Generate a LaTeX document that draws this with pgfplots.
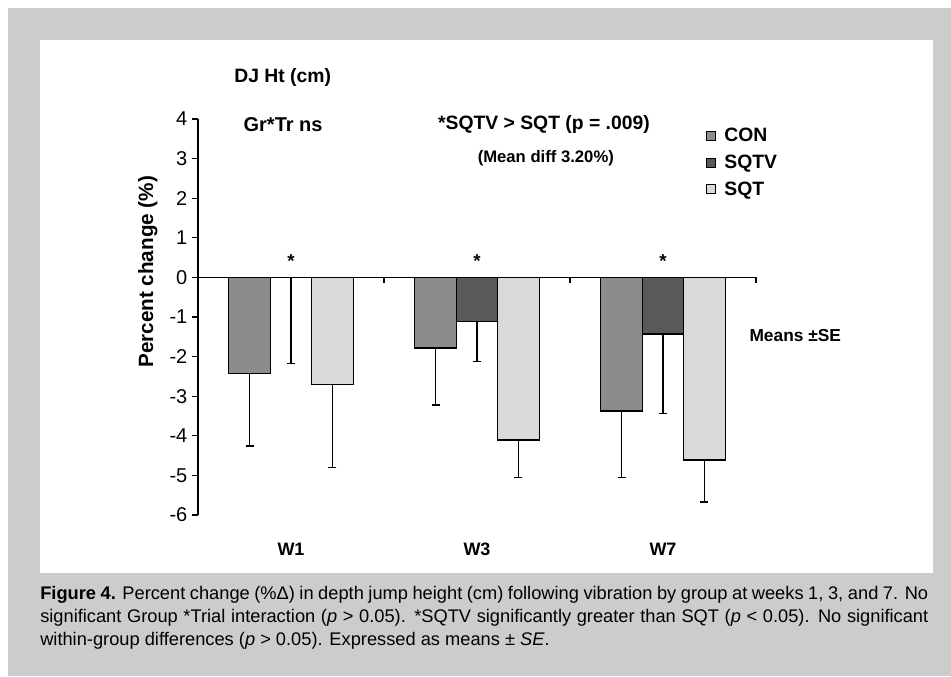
\documentclass[border=0pt]{standalone}
\usepackage{fontspec}
\setmainfont{Liberation Sans}
\usepackage{pgfplots}
\usepackage{pgfplotstable}
\pgfplotsset{compat=1.18}

\definecolor{bggray}{HTML}{CCCCCC}
\definecolor{concol}{HTML}{8C8C8C}
\definecolor{sqtvcol}{HTML}{595959}
\definecolor{sqtcol}{HTML}{D9D9D9}

% mean percent change and SE, weeks W1, W3, W7
\pgfplotstableread{
x y e
0 -2.42 1.84
1 -1.78 1.44
2 -3.37 1.69
}\tabcon
\pgfplotstableread{
x y e
0  0.00 2.17
1 -1.11 1.01
2 -1.43 2.01
}\tabsqtv
\pgfplotstableread{
x y e
0 -2.70 2.11
1 -4.11 0.95
2 -4.61 1.06
}\tabsqt

\newcommand{\fs}[1]{\fontsize{#1}{#1}\selectfont}
\newcommand{\plusmin}{\char"00B1\relax}

\begin{document}
\begin{tikzpicture}
\useasboundingbox (0,0) rectangle (713.25pt,507pt);
\fill[white] (0,0) rectangle (713.25pt,507pt);
\fill[bggray] (6pt,0) rectangle (713.25pt,501pt);
\fill[white] (30pt,77.25pt) rectangle (699.75pt,477pt);
\begin{axis}[
    at={(148.5pt,120.75pt)}, anchor=south west,
    scale only axis,
    width=418.5pt, height=297pt,
    xmin=-0.5, xmax=2.5,
    ymin=-6, ymax=4,
    ybar=0pt, bar width=31.1pt,
    axis y line*=left,
    axis x line*=bottom,
    x axis line style={draw=none},
    y axis line style={black, line width=0.9pt},
    xtick={0,1,2},
    xticklabels={W1,W3,W7},
    xtick style={draw=none},
    xticklabel style={font=\bfseries\fs{13.5}, yshift=-13pt},
    ytick={-6,-5,-4,-3,-2,-1,0,1,2,3,4},
    yticklabels={-6,-5,-4,-3,-2,-1,0,1,2,3,4},
    yticklabel style={font=\fs{15}},
    ytick style={black, line width=0.9pt},
    tick align=outside,
    major tick length=4.5pt,
    ylabel={Percent change (\%)},
    ylabel style={font=\bfseries\fs{15.5}, at={(axis description cs:-0.09,0.614)}, anchor=center},
    clip=false,
    legend style={at={(axis description cs:0.91,0.985)}, anchor=north west,
        draw=none, fill=none, font=\bfseries\fs{14.5}, row sep=4.5pt,
        inner sep=0pt},
    legend cell align=left,
    legend image code/.code={\draw[#1, draw=black, line width=0.6pt] (0pt,-3.4pt) rectangle (6.8pt,3.4pt); \path (11pt,0pt);},
    error bars/y dir=minus,
    error bars/y explicit,
    error bars/error bar style={black, line width=0.9pt},
    error bars/error mark options={rotate=90, black, mark size=3pt, line width=0.9pt},
]
\addplot[fill=concol, draw=black, line width=1pt] table[x=x, y=y, y error=e] {\tabcon};
\addplot[fill=sqtvcol, draw=black, line width=1pt] table[x=x, y=y, y error=e] {\tabsqtv};
\addplot[fill=sqtcol, draw=black, line width=1pt] table[x=x, y=y, y error=e] {\tabsqt};
\legend{CON, SQTV, SQT}

% zero line with category separators
\draw[black, line width=0.9pt] (axis cs:-0.5,0) -- (axis cs:2.5,0);
\draw[black, line width=0.9pt] (axis cs:0.5,0) -- ([yshift=-4.5pt]axis cs:0.5,0);
\draw[black, line width=0.9pt] (axis cs:1.5,0) -- ([yshift=-4.5pt]axis cs:1.5,0);
\draw[black, line width=0.9pt] (axis cs:2.5,0) -- ([yshift=-4.5pt]axis cs:2.5,0);

\node[font=\bfseries\fs{14.5}, anchor=west] at (axis cs:-0.33,5.05) {DJ Ht (cm)};
\node[font=\bfseries\fs{15}, anchor=west] at (axis cs:-0.28,3.85) {Gr*Tr ns};
\node[font=\bfseries\fs{14.5}] at (axis cs:1.36,3.85) {*SQTV > SQT (p = .009)};
\node[font=\bfseries\fs{12.5}] at (axis cs:1.37,3.0) {(Mean diff 3.20\%)};
\node[font=\bfseries\fs{14}] at (axis cs:0,0.42) {*};
\node[font=\bfseries\fs{14}] at (axis cs:1,0.42) {*};
\node[font=\bfseries\fs{14}] at (axis cs:2,0.42) {*};
\node[font=\bfseries\fs{13}, anchor=west] at (axis cs:2.44,-1.46) {Means \plusmin SE};
\end{axis}

\node[anchor=base west, inner sep=0pt, font=\fs{13.7}] at (30pt,57.75pt)
  {\makebox[666pt][s]{\textbf{Figure 4.} Percent change (\%\char"0394\relax) in depth jump height (cm) following vibration by group at weeks 1, 3, and 7. No}};
\node[anchor=base west, inner sep=0pt, font=\fs{13.7}] at (30pt,40.5pt)
  {\makebox[666pt][s]{significant Group *Trial interaction (\textit{p} > 0.05). *SQTV significantly greater than SQT (\textit{p} < 0.05). No significant}};
\node[anchor=base west, inner sep=0pt, font=\fs{13.7}] at (30pt,23.25pt)
  {within-group differences (\textit{p} > 0.05). Expressed as means \plusmin\ \textit{SE}.};
\end{tikzpicture}
\end{document}
